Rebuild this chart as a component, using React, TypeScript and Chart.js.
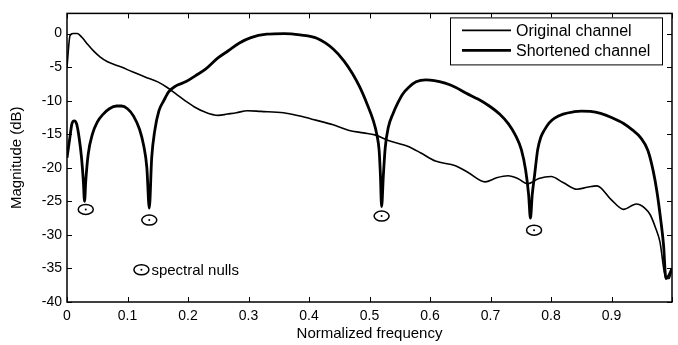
import { useEffect, useRef } from "react";
import { Chart, registerables } from "chart.js";

Chart.register(...registerables);

// ---- data ----
const seriesNames = ["Original channel", "Shortened channel"];
const xTitle = "Normalized frequency";
const yTitle = "Magnitude (dB)";
const nullLabel = "spectral nulls";

const originalFreq = [
  0, 0.005, 0.01, 0.017, 0.025, 0.034, 0.045, 0.055, 0.067, 0.09, 0.108, 0.13, 0.15, 0.165, 0.18,
  0.195, 0.21, 0.228, 0.25, 0.265, 0.28, 0.298, 0.32, 0.358, 0.385, 0.411, 0.44, 0.465, 0.49,
  0.509, 0.53, 0.563, 0.585, 0.609, 0.642, 0.663, 0.691, 0.71, 0.729, 0.745, 0.761, 0.78, 0.8,
  0.82, 0.843, 0.86, 0.876, 0.899, 0.92, 0.941, 0.955, 0.964, 0.973, 0.98, 0.99, 0.995, 1.0,
];
const originalMag = [
  -5, -0.3, 0, 0, -0.6, -1.6, -2.7, -3.5, -4.2, -5.0, -5.7, -6.5, -7.2, -8.0, -9.0,
  -10, -10.9, -11.7, -12.2, -12.0, -11.8, -11.5, -11.6, -11.8, -12.3, -12.9, -13.6, -14.4, -14.8,
  -15.1, -15.9, -16.8, -17.8, -19.0, -19.7, -20.7, -22.1, -21.5, -21.2, -21.6, -22.4, -21.6, -21.3,
  -22.2, -23.2, -22.9, -22.7, -24.7, -26.2, -25.4, -26.0, -27, -29, -31, -36.5, -36.5, -35,
];

const shortenedFreq = [
  0, 0.004, 0.008, 0.012, 0.016, 0.02, 0.024, 0.027, 0.029, 0.031, 0.035, 0.042, 0.05, 0.06, 0.07,
  0.082, 0.09, 0.1, 0.11, 0.12, 0.127, 0.132, 0.136, 0.14, 0.145, 0.152, 0.16, 0.168, 0.18, 0.196,
  0.212, 0.229, 0.25, 0.266, 0.285, 0.304, 0.33, 0.359, 0.385, 0.413, 0.44, 0.458, 0.472, 0.484,
  0.496, 0.506, 0.512, 0.516, 0.518, 0.52, 0.523, 0.526, 0.531, 0.539, 0.547, 0.555, 0.565, 0.577,
  0.593, 0.607, 0.625, 0.642, 0.66, 0.68, 0.698, 0.715, 0.73, 0.742, 0.751, 0.758, 0.763, 0.766,
  0.769, 0.773, 0.778, 0.783, 0.789, 0.797, 0.806, 0.82, 0.838, 0.85, 0.865, 0.882, 0.9, 0.92, 0.935,
  0.948, 0.96, 0.969, 0.975, 0.981, 0.986, 0.99, 0.995, 1.0,
];
const shortenedMag = [
  -18.5, -16, -13.5, -13.0, -13.5, -15.5, -18.5, -22, -25, -22, -18, -15, -13.2, -12, -11.2,
  -10.8, -10.8, -11.2, -12.3, -14.3, -16.8, -20, -26, -18.5, -14.5, -11.5, -10, -8.7, -7.8, -7.2,
  -6.3, -5.3, -3.6, -2.6, -1.4, -0.6, -0.1, 0, -0.2, -0.7, -2.3, -4.1, -6, -8,
  -10.5, -12.9, -15, -17.5, -21, -25.8, -21, -17, -14, -11.9, -10.3, -9, -8, -7.2,
  -6.9, -7.0, -7.4, -8.0, -8.9, -9.8, -10.8, -12, -13.5, -15.3, -17.3, -20.3, -24, -27.5,
  -24, -21, -17.3, -15.5, -14.4, -13.3, -12.6, -12, -11.65, -11.55, -11.6, -11.9, -12.5, -13.4, -14.4,
  -15.5, -17.4, -20.5, -23.5, -27.5, -31.5, -36.5, -36, -35,
];

// spectral-null marker positions (data coordinates)
const nullFreq = [0.031, 0.136, 0.52, 0.772];
const nullMag = [-26.2, -27.8, -27.2, -29.3];
const nullKeyFreq = [0.123];
const nullKeyMag = [-35.2];

const xTicks = [0, 0.1, 0.2, 0.3, 0.4, 0.5, 0.6, 0.7, 0.8, 0.9, 1];
const xTickLabels = ["0", "0.1", "0.2", "0.3", "0.4", "0.5", "0.6", "0.7", "0.8", "0.9", ""];
const yTicks = [-40, -35, -30, -25, -20, -15, -10, -5, 0];

const FONT = "'Liberation Sans', Arial, Helvetica, sans-serif";

const framePlugin = {
  id: "framePlugin",
  afterDatasetsDraw(chart: any) {
    const { ctx, chartArea, scales } = chart;
    const { left, right, top, bottom } = chartArea;
    const xs = scales.x;
    const ys = scales.y;
    ctx.save();
    // null markers
    ctx.strokeStyle = "#000";
    ctx.fillStyle = "#000";
    ctx.lineWidth = 1.5;
    const drawMarker = (px: number, py: number) => {
      ctx.beginPath();
      ctx.ellipse(px, py, 7.5, 5, 0, 0, Math.PI * 2);
      ctx.stroke();
      ctx.beginPath();
      ctx.arc(px, py, 1, 0, Math.PI * 2);
      ctx.fill();
    };
    for (let i = 0; i < nullFreq.length; i++) {
      drawMarker(xs.getPixelForValue(nullFreq[i]), ys.getPixelForValue(nullMag[i]));
    }
    const kx = xs.getPixelForValue(nullKeyFreq[0]);
    const ky = ys.getPixelForValue(nullKeyMag[0]);
    drawMarker(kx, ky);
    ctx.font = `15px ${FONT}`;
    ctx.textAlign = "left";
    ctx.textBaseline = "middle";
    ctx.fillText(nullLabel, kx + 10, ky + 1);

    // frame
    ctx.lineWidth = 1.5;
    ctx.strokeRect(left, top, right - left, bottom - top);
    // inward ticks
    ctx.lineWidth = 1;
    ctx.beginPath();
    for (const v of xTicks) {
      const px = Math.round(xs.getPixelForValue(v)) + 0.5;
      ctx.moveTo(px, bottom);
      ctx.lineTo(px, bottom - 5);
      ctx.moveTo(px, top);
      ctx.lineTo(px, top + 5);
    }
    for (const v of yTicks) {
      const py = Math.round(ys.getPixelForValue(v)) + 0.5;
      ctx.moveTo(left, py);
      ctx.lineTo(left + 5, py);
      ctx.moveTo(right, py);
      ctx.lineTo(right - 5, py);
    }
    ctx.stroke();

    // legend box
    const bx = right - 222;
    const by = top + 4;
    const bw = 212;
    const bh = 47;
    ctx.fillStyle = "#fff";
    ctx.fillRect(bx, by, bw, bh);
    ctx.strokeStyle = "#000";
    ctx.lineWidth = 1;
    ctx.strokeRect(bx + 0.5, by + 0.5, bw, bh);
    const widths = [1.6, 2.8];
    chart.data.datasets.forEach((ds: any, i: number) => {
      const ly = by + 13 + i * 20;
      ctx.beginPath();
      ctx.lineWidth = widths[i];
      ctx.moveTo(bx + 12, ly);
      ctx.lineTo(bx + 61, ly);
      ctx.stroke();
      ctx.fillStyle = "#000";
      ctx.font = `16px ${FONT}`;
      ctx.textAlign = "left";
      ctx.textBaseline = "middle";
      ctx.fillText(ds.label, bx + 66, ly + 1);
    });
    ctx.restore();
  },
};

export default function App() {
  const canvasRef = useRef<HTMLCanvasElement | null>(null);

  useEffect(() => {
    document.body.style.margin = "0";
    const canvas = canvasRef.current;
    if (!canvas) return;
    const chart = new Chart(canvas, {
      type: "line",
      data: {
        datasets: [
          {
            label: seriesNames[0],
            data: originalFreq.map((f, i) => ({ x: f, y: originalMag[i] })),
            borderColor: "#000",
            borderWidth: 1.6,
            pointRadius: 0,
            cubicInterpolationMode: "monotone",
            fill: false,
          },
          {
            label: seriesNames[1],
            data: shortenedFreq.map((f, i) => ({ x: f, y: shortenedMag[i] })),
            borderColor: "#000",
            borderWidth: 2.8,
            pointRadius: 0,
            cubicInterpolationMode: "monotone",
            fill: false,
          },
        ],
      },
      options: {
        animation: false,
        responsive: true,
        maintainAspectRatio: false,
        layout: { padding: { top: 8, right: 1, left: 0, bottom: 0 } },
        plugins: { legend: { display: false }, tooltip: { enabled: false } },
        scales: {
          x: {
            type: "linear",
            min: 0,
            max: 1,
            afterFit: (s: any) => {
              s.height = 43;
            },
            afterBuildTicks: (s: any) => {
              s.ticks = xTicks.map((v) => ({ value: v }));
            },
            grid: { display: false, drawTicks: false },
            border: { display: false },
            ticks: {
              padding: 6,
              color: "#000",
              font: { family: FONT, size: 14 },
              maxRotation: 0,
              autoSkip: false,
              callback: (_v: any, i: number) => xTickLabels[i],
            },
            title: {
              display: true,
              text: xTitle,
              color: "#000",
              font: { family: FONT, size: 15 },
              padding: { top: 0, bottom: 2 },
            },
          },
          y: {
            type: "linear",
            min: -40,
            max: 3,
            afterFit: (s: any) => {
              s.width = 67;
            },
            afterBuildTicks: (s: any) => {
              s.ticks = yTicks.map((v) => ({ value: v }));
            },
            grid: { display: false, drawTicks: false },
            border: { display: false },
            ticks: {
              padding: 5,
              color: "#000",
              font: { family: FONT, size: 14 },
              autoSkip: false,
              callback: (v: any) => String(v),
            },
            title: {
              display: true,
              text: yTitle,
              color: "#000",
              font: { family: FONT, size: 15 },
              padding: { top: 8, bottom: 0 },
            },
          },
        },
      },
      plugins: [framePlugin],
    } as any);
    return () => chart.destroy();
  }, []);

  return (
    <div style={{ position: "fixed", left: 0, top: 0, width: 678, height: 345, background: "#fff" }}>
      <canvas ref={canvasRef} />
    </div>
  );
}
